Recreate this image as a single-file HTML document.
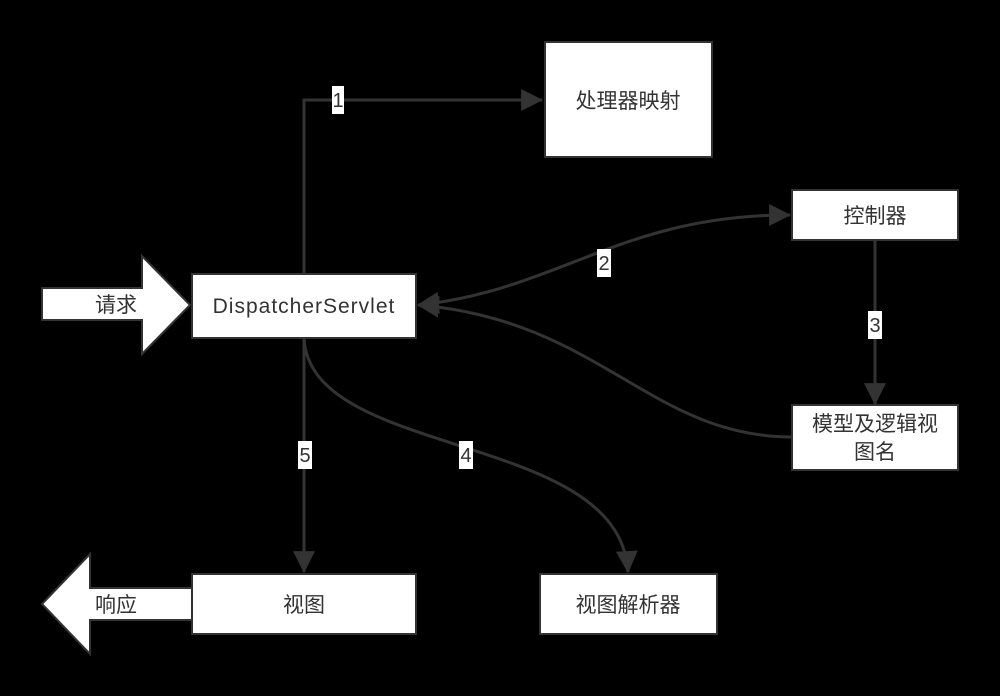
<!DOCTYPE html>
<html><head><meta charset="utf-8"><style>
html,body{margin:0;padding:0;background:#000;}
svg{display:block;}
text{font-family:"Liberation Sans","Noto Sans CJK SC",sans-serif;fill:#333;}
</style></head><body>
<svg width="1000" height="696" viewBox="0 0 1000 696" xmlns="http://www.w3.org/2000/svg">
<defs>
<marker id="b" viewBox="0 0 20 20" markerWidth="22" markerHeight="22" refX="19" refY="10" orient="auto-start-reverse" markerUnits="userSpaceOnUse">
<path d="M0,0 L20,10 L0,20 Z" fill="#333"/></marker>
</defs>
<rect width="1000" height="696" fill="#000"/>
<g fill="none" stroke="#333" stroke-width="3">
<path d="M304,274 V100 H542" marker-end="url(#b)"/>
<path d="M418,305 C560,290 620,215 790,215" marker-start="url(#b)" marker-end="url(#b)"/>
<path d="M875,240 V404" marker-end="url(#b)"/>
<path d="M792,437 C650,437 600,320 418,305" marker-end="url(#b)"/>
<path d="M304,338 V572" marker-end="url(#b)"/>
<path d="M304,338 C310,460 620,430 628,572" marker-end="url(#b)"/>
</g>
<g fill="#fff" stroke="#333" stroke-width="2">
<path d="M42,288 H142 V256 L190,305 L142,354 V320 H42 Z"/>
<path d="M42,604 L90,554 V588 H192 V620 H90 V654 Z"/>
<rect x="192" y="274" width="224" height="64"/>
<rect x="545" y="42" width="167" height="115"/>
<rect x="792" y="190" width="166" height="50"/>
<rect x="792" y="405" width="166" height="65"/>
<rect x="192" y="574" width="224" height="60"/>
<rect x="540" y="574" width="177" height="60"/>
</g>
<g fill="#fff">
<rect x="332" y="86" width="12" height="28"/>
<rect x="597" y="249" width="14" height="28"/>
<rect x="868" y="311" width="14" height="28"/>
<rect x="298" y="441" width="14" height="28"/>
<rect x="459" y="441" width="14" height="28"/>
</g>
<g font-size="20" text-anchor="middle">
<text x="338" y="107">1</text>
<text x="604" y="270">2</text>
<text x="875" y="332">3</text>
<text x="305" y="462">5</text>
<text x="466" y="462">4</text>
</g>
<text x="304" y="313" font-size="21" letter-spacing="1" text-anchor="middle">DispatcherServlet</text>
<g font-size="21" text-anchor="middle">
<text x="628" y="108">处理器映射</text>
<text x="875" y="223">控制器</text>
<text x="875" y="431">模型及逻辑视</text>
<text x="875" y="459">图名</text>
<text x="304" y="612">视图</text>
<text x="628" y="612">视图解析器</text>
<text x="116" y="312">请求</text>
<text x="116" y="612">响应</text>
</g>
</svg>
</body></html>
